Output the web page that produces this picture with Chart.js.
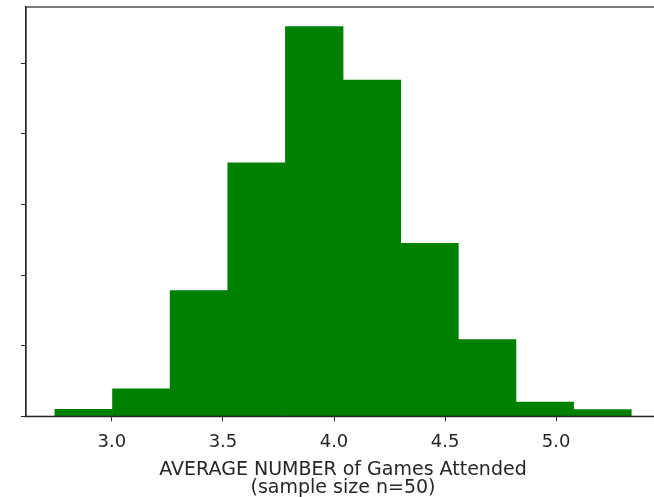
<!DOCTYPE html>
<html>
<head>
<meta charset="utf-8">
<script src="https://cdn.jsdelivr.net/npm/chart.js@4.4.1/dist/chart.umd.min.js"></script>
<style>
html,body{margin:0;padding:0;background:#fff;overflow:hidden;width:654px;height:497px;}
#wrap{position:absolute;left:0;top:0;width:672px;height:497px;}
</style>
</head>
<body>
<div id="wrap"><canvas id="c" width="672" height="497"></canvas></div>
<script>
// Histogram bin edges (average number of games attended)
const binEdges = [2.743, 3.003, 3.262, 3.522, 3.781, 4.041, 4.300, 4.560, 4.819, 5.079, 5.338];
// Density per bin
const density = [0.020, 0.078, 0.356, 0.718, 1.104, 0.952, 0.490, 0.217, 0.040, 0.019];
// Axis ticks
const xTicks = [3.0, 3.5, 4.0, 4.5, 5.0];
const yTicks = [0.0, 0.2, 0.4, 0.6, 0.8, 1.0];
const xTitle = ["AVERAGE NUMBER of Games Attended", "(sample size n=50)"];

const points = density.map((d, i) => ({ x: (binEdges[i] + binEdges[i + 1]) / 2, y: d }));
const span = binEdges[binEdges.length - 1] - binEdges[0];
const yMax = Math.max(...density) * 1.05;

const frame = {
  id: 'frame',
  afterDraw(chart) {
    const a = chart.chartArea, ctx = chart.ctx;
    ctx.save();
    ctx.strokeStyle = '#262626';
    ctx.lineWidth = 1.2;
    ctx.strokeRect(a.left, a.top, a.right - a.left, a.bottom - a.top);
    ctx.restore();
  }
};

new Chart(document.getElementById('c'), {
  type: 'bar',
  data: {
    datasets: [{
      data: points,
      backgroundColor: '#008000',
      borderWidth: 0,
      barPercentage: 1.0,
      categoryPercentage: 1.0
    }]
  },
  options: {
    responsive: false,
    animation: false,
    layout: { padding: { left: 21, top: 7, right: 12, bottom: 0 } },
    plugins: { legend: { display: false }, tooltip: { enabled: false } },
    scales: {
      x: {
        type: 'linear',
        offset: false,
        min: binEdges[0] - span * 0.05,
        max: binEdges[binEdges.length - 1] + span * 0.05,
        afterBuildTicks: s => { s.ticks = xTicks.map(v => ({ value: v })); },
        ticks: {
          callback: v => Number(v).toFixed(1),
          color: '#262626',
          font: { family: 'DejaVu Sans', size: 18 },
          padding: 10,
          maxRotation: 0,
          autoSkip: false
        },
        grid: { offset: false, drawOnChartArea: false, drawTicks: true, tickLength: 5, color: '#262626' },
        border: { display: true, color: '#262626', width: 1.2 },
        title: {
          display: true,
          text: xTitle,
          color: '#262626',
          font: { family: 'DejaVu Sans', size: 19, lineHeight: 0.95 },
          padding: { top: -2, bottom: 0 }
        }
      },
      y: {
        min: 0,
        max: yMax,
        afterBuildTicks: s => { s.ticks = yTicks.map(v => ({ value: v })); },
        ticks: { display: false },
        grid: { drawOnChartArea: false, drawTicks: true, tickLength: 5, color: '#262626' },
        border: { display: true, color: '#262626', width: 1.2 }
      }
    }
  },
  plugins: [frame]
});
</script>
</body>
</html>
